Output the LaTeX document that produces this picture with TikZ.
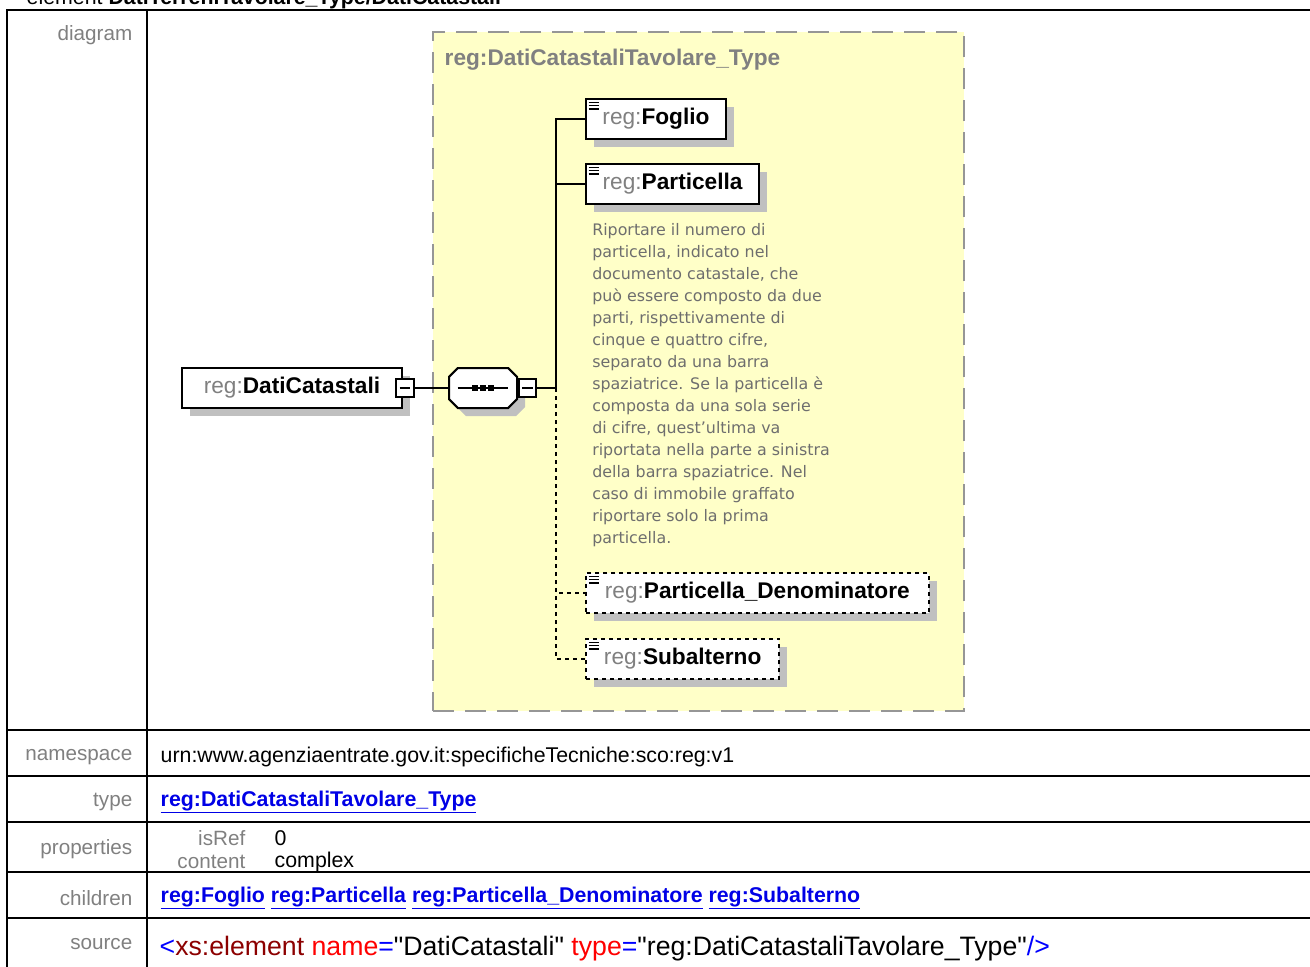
\documentclass[tikz,border=0pt]{standalone}
\usepackage{fontspec}
\setmainfont{Liberation Sans}
\newfontfamily\notefont{DejaVu Sans}
\newfontfamily\srcfont{Liberation Sans}
\usetikzlibrary{positioning,shapes.misc,shadows}
\definecolor{typeyellow}{RGB}{255,255,200}
\definecolor{framegray}{RGB}{150,150,150}
\definecolor{shadowgray}{RGB}{192,192,192}
\definecolor{labelgray}{RGB}{128,128,128}
\definecolor{notegray}{RGB}{110,110,110}
\definecolor{linkblue}{RGB}{0,0,230}
\definecolor{tagred}{RGB}{140,0,0}
\newcommand{\regname}[1]{{\color{labelgray}reg:}\textbf{#1}}
\newcommand{\xlink}[1]{\underline{\textbf{#1}}}

\begin{document}
\begin{tikzpicture}[x=0.75pt, y=-0.75pt,
  tabline/.style={line width=1.5pt},
  lbl/.style={anchor=east, text=labelgray, font=\fontsize{15.5}{17}\selectfont},
  val/.style={anchor=west, font=\fontsize{16}{18}\selectfont},
  lnk/.style={val, text=linkblue},
  elem/.style={draw, line width=1.5pt, fill=white, anchor=north west,
    minimum height=30pt, inner xsep=8pt, font=\fontsize{17}{19}\selectfont,
    drop shadow={shadow xshift=6pt, shadow yshift=-6pt, fill=shadowgray,
      opacity=1}},
  leaf/.style={elem, path picture={
    \foreach \k in {0,2.5,5}
      \draw[solid, line width=1pt] ([xshift=2pt, yshift=-2.5pt-\k pt]
        path picture bounding box.north west) -- ++(7.5pt,0);}},
  optleaf/.style={leaf, dash pattern=on 3pt off 3pt},
  minus/.style={draw, line width=1.5pt, fill=white, minimum size=13pt,
    inner sep=0pt, path picture={
    \draw[line width=1pt] ([xshift=-4pt]path picture bounding box.center)
      -- ([xshift=4pt]path picture bounding box.center);}},
  seqbox/.style={chamfered rectangle, chamfered rectangle xsep=6pt,
    draw, line width=1.5pt, fill=white, minimum width=51pt,
    minimum height=30pt, drop shadow={shadow xshift=6pt, shadow yshift=-6pt,
      fill=shadowgray, opacity=1}},
  conn/.style={line width=1.2pt},
  optconn/.style={conn, dash pattern=on 3pt off 3pt}]
\useasboundingbox (0,0) rectangle (1310,967);
\clip (0,0) rectangle (1310,967);

% heading and table frame
\node[anchor=base west, font=\fontsize{16}{18}\selectfont] (heading) at (22,4)
  {element \textbf{DatiTerreniTavolare\_Type/DatiCatastali}};
\draw[tabline] (7,1000) |- (1320,10);
\draw[tabline] (147,10) -- (147,1000);
\foreach \y in {730,776,822,872,918}
  \draw[tabline] (7,\y) -- (1320,\y);

% row labels
\node[lbl] (lbldiagram) at (137,35) {diagram};
\node[lbl] (lblns) at (137,757) {namespace};
\node[lbl] (lbltype) at (137,802) {type};
\node[lbl] (lblprops) at (137,849) {properties};
\node[lbl] (lblchildren) at (137,898) {children};
\node[lbl] (lblsource) at (137,944) {source};

% row values
\node[val] (ns) at (156,757) {urn:www.agenziaentrate.gov.it:specificheTecniche:sco:reg:v1};
\node[lnk] (typelink) at (156,802) {\xlink{reg:DatiCatastaliTavolare\_Type}};
\node[lbl] (isref) at (250,838) {isRef};
\node[lbl] (content) at (250,862) {content};
\node[val] (isrefval) at (270,838) {0};
\node[val] (contentval) at (270,862) {complex};
\node[lnk] (childlinks) at (156,898) {\xlink{reg:Foglio} \xlink{reg:Particella}
  \xlink{reg:Particella\_Denominatore} \xlink{reg:Subalterno}};
\node[val, font=\srcfont\fontsize{20}{22}\selectfont] (source) at (155,949)
  {{\color{blue}<}{\color{tagred}xs:element} {\color{red}name}{\color{blue}=}"DatiCatastali"
   {\color{red}type}{\color{blue}=}"reg:DatiCatastaliTavolare\_Type"{\color{blue}/>}};

% complex type frame
\node[draw=framegray, fill=typeyellow, line width=1.5pt,
  dash pattern=on 16pt off 8pt, anchor=north west, minimum width=398pt,
  minimum height=509pt] (ctype) at (432,31) {};
\node[anchor=west, text=labelgray, font=\bfseries\fontsize{17}{19}\selectfont]
  (ctypename) at (440,60) {reg:DatiCatastaliTavolare\_Type};

% root element and sequence
\node[elem, minimum width=165pt] (root) at (181,367) {\regname{DatiCatastali}\hspace{6pt}};
\node[minus] (rootminus) at ([xshift=1.5pt]root.east) {};
\node[seqbox, right=25pt of rootminus] (seq) {};
\node[minus, anchor=west] (seqminus) at (seq.east) {};
\draw[line width=1.2pt] ([xshift=-19pt]seq.center) -- ([xshift=19pt]seq.center);
\foreach \d in {-6,0,6}
  \fill ([xshift=\d pt]seq.center) +(-2pt,-2pt) rectangle +(2pt,2pt);
\coordinate[right=14pt of seqminus] (spine);

% child elements
\node[leaf, minimum width=105pt] (foglio) at (585,98) {\regname{Foglio}};
\node[leaf, minimum width=130pt] (partic) at (585,163) {\regname{Particella}};
\node[anchor=north west, align=left, inner sep=0pt, text=notegray,
  font=\notefont\fontsize{11.9}{16.5}\selectfont] (particnote) at (592,223)
  {Riportare il numero di\\particella, indicato nel\\documento catastale, che\\
   può essere composto da due\\parti, rispettivamente di\\cinque e quattro cifre,\\
   separato da una barra\\spaziatrice. Se la particella è\\composta da una sola serie\\
   di cifre, quest’ultima va\\riportata nella parte a sinistra\\della barra spaziatrice. Nel\\
   caso di immobile graffato\\riportare solo la prima\\particella.};
\node[optleaf, minimum width=257pt] (denom) at (585,572) {\regname{Particella\_Denominatore}};
\node[optleaf, minimum width=145pt] (subalt) at (585,638) {\regname{Subalterno}};

% connectors
\draw[conn] (rootminus) -- (seq);
\draw[conn] (seqminus) -- (spine);
\draw[conn] (spine) |- (foglio.west);
\draw[conn] (spine) |- (partic.west);
\draw[optconn] (spine) |- (denom.west);
\draw[optconn] (spine) |- (subalt.west);
\end{tikzpicture}
\end{document}
